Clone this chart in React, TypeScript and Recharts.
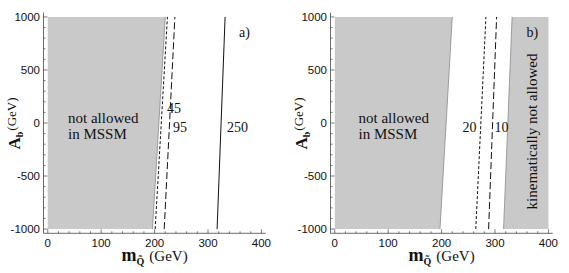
import React from 'react';
import { ComposedChart, Area, Line, XAxis, YAxis } from 'recharts';

// A_b values where each contour / boundary is sampled
const AB = [-1000, 1000];

// axis ticks (major ones get labels)
const X_TICKS = [0, 20, 40, 60, 80, 100, 120, 140, 160, 180, 200, 220, 240, 260, 280, 300, 320, 340, 360, 380, 400];
const Y_TICKS = [-1000, -900, -800, -700, -600, -500, -400, -300, -200, -100, 0, 100, 200, 300, 400, 500, 600, 700, 800, 900, 1000];
const X_DOMAIN = [-8, 408];
const Y_DOMAIN = [-1040, 1040];
const M_MAX = 400;

// panel a) m_Q at A_b = -1000 / +1000
const A_MSSM_EDGE = [196, 220];
const A_45 = [201, 224];
const A_95 = [218, 238];
const A_250 = [317, 332];

// panel b)
const B_MSSM_EDGE = [197, 220];
const B_20 = [264, 283];
const B_10 = [288, 303];
const B_KIN_EDGE = [316, 332];

const rowsA = AB.map((ab, i) => ({
  ab,
  mssm: [0, A_MSSM_EDGE[i]],
  edge: A_MSSM_EDGE[i],
  c45: A_45[i],
  c95: A_95[i],
  c250: A_250[i],
}));

const rowsB = AB.map((ab, i) => ({
  ab,
  mssm: [0, B_MSSM_EDGE[i]],
  edge: B_MSSM_EDGE[i],
  c20: B_20[i],
  c10: B_10[i],
  kin: [B_KIN_EDGE[i], M_MAX],
  kinEdge: B_KIN_EDGE[i],
}));

const W = 285;
const H = 273;
const FRAME = '#444';
const GRAY = '#c9c9c9';
const SANS = '"Liberation Sans", Arial, sans-serif';
const SERIF = '"Liberation Serif", "Times New Roman", serif';

const BottomTick = ({ x, y, payload }: any) => {
  const major = payload.value % 100 === 0;
  return (
    <g>
      <line x1={x} x2={x} y1={y} y2={y - (major ? 4 : 2)} stroke={FRAME} strokeWidth={0.7} />
      {major && (
        <text x={x} y={y + 14} textAnchor="middle" fontSize={11.5} fontFamily={SANS} fill="#111">
          {payload.value}
        </text>
      )}
    </g>
  );
};

const TopTick = ({ x, y, payload }: any) => {
  const major = payload.value % 100 === 0;
  return <line x1={x} x2={x} y1={y} y2={y + (major ? 4 : 2)} stroke={FRAME} strokeWidth={0.7} />;
};

const LeftTick = ({ x, y, payload }: any) => {
  const major = payload.value % 500 === 0;
  return (
    <g>
      <line x1={x} x2={x + (major ? 4 : 2)} y1={y} y2={y} stroke={FRAME} strokeWidth={0.7} />
      {major && (
        <text x={x - 3.5} y={y + 4} textAnchor="end" fontSize={11.5} fontFamily={SANS} fill="#111">
          {payload.value}
        </text>
      )}
    </g>
  );
};

const RightTick = ({ x, y, payload }: any) => {
  const major = payload.value % 500 === 0;
  return <line x1={x} x2={x - (major ? 4 : 2)} y1={y} y2={y} stroke={FRAME} strokeWidth={0.7} />;
};

const frameAxes = () => [
  <XAxis
    key="xb"
    xAxisId="b"
    orientation="bottom"
    type="number"
    domain={X_DOMAIN}
    ticks={X_TICKS}
    allowDataOverflow
    interval={0}
    height={39.7}
    tickSize={0}
    tickMargin={0}
    tickLine={false}
    tick={BottomTick}
    axisLine={{ stroke: FRAME, strokeWidth: 0.8 }}
  />,
  <XAxis
    key="xt"
    xAxisId="t"
    orientation="top"
    type="number"
    domain={X_DOMAIN}
    ticks={X_TICKS}
    allowDataOverflow
    interval={0}
    height={0}
    tickSize={0}
    tickMargin={0}
    tickLine={false}
    tick={TopTick}
    axisLine={{ stroke: FRAME, strokeWidth: 0.8 }}
  />,
  <YAxis
    key="yl"
    yAxisId="l"
    orientation="left"
    type="number"
    dataKey="ab"
    domain={Y_DOMAIN}
    ticks={Y_TICKS}
    allowDataOverflow
    reversed
    interval={0}
    width={43.5}
    tickSize={0}
    tickMargin={0}
    tickLine={false}
    tick={LeftTick}
    axisLine={{ stroke: FRAME, strokeWidth: 0.8 }}
  />,
  <YAxis
    key="yr"
    yAxisId="r"
    orientation="right"
    type="number"
    domain={Y_DOMAIN}
    ticks={Y_TICKS}
    allowDataOverflow
    reversed
    interval={0}
    width={0}
    tickSize={0}
    tickMargin={0}
    tickLine={false}
    tick={RightTick}
    axisLine={{ stroke: FRAME, strokeWidth: 0.8 }}
  />,
];

const MARGIN = { top: 12.7, right: 19.3, bottom: 0, left: 0 };

const AxisTitles = () => (
  <>
    <text x={154.6} y={261} textAnchor="middle" fontFamily={SERIF} fill="#111">
      <tspan fontWeight="bold" fontSize={18}>m</tspan>
      <tspan fontWeight="bold" fontSize={10} dy={4}>Q̃</tspan>
      <tspan fontSize={15} dy={-4} dx={5}>(GeV)</tspan>
    </text>
    <text transform="translate(20,123.5) rotate(-90)" textAnchor="middle" fontFamily={SERIF} fill="#111">
      <tspan fontWeight="bold" fontSize={17}>A</tspan>
      <tspan fontWeight="bold" fontSize={10} dy={3}>b</tspan>
      <tspan fontSize={13} dy={-7} dx={1}>(GeV)</tspan>
    </text>
  </>
);

const txt = { fontFamily: SERIF, fill: '#111' };

const PanelA = () => (
  <div style={{ position: 'absolute', left: 0, top: 0, width: W, height: H }}>
    <ComposedChart width={W} height={H} data={rowsA} layout="vertical" margin={MARGIN}>
      {frameAxes()}
      <Area xAxisId="b" yAxisId="l" dataKey="mssm" fill={GRAY} fillOpacity={1} stroke="none" isAnimationActive={false} />
      <Line xAxisId="b" yAxisId="l" dataKey="edge" stroke="#8a8a8a" strokeWidth={0.8} dot={false} isAnimationActive={false} />
      <Line xAxisId="b" yAxisId="l" dataKey="c45" stroke="#111" strokeWidth={1} strokeDasharray="3 2" dot={false} isAnimationActive={false} />
      <Line xAxisId="b" yAxisId="l" dataKey="c95" stroke="#111" strokeWidth={1} strokeDasharray="7 3" dot={false} isAnimationActive={false} />
      <Line xAxisId="b" yAxisId="l" dataKey="c250" stroke="#111" strokeWidth={1} dot={false} isAnimationActive={false} />
    </ComposedChart>
    <svg width={W} height={H} style={{ position: 'absolute', left: 0, top: 0, pointerEvents: 'none' }}>
      <AxisTitles />
      <text x={68} y={123} fontSize={15} {...txt}>not allowed</text>
      <text x={68} y={138.5} fontSize={15} {...txt}>in MSSM</text>
      <text x={167} y={113} fontSize={14} {...txt}>45</text>
      <text x={173} y={132} fontSize={14} {...txt}>95</text>
      <text x={227} y={132} fontSize={14} {...txt}>250</text>
      <text x={239} y={37} fontSize={14} {...txt}>a)</text>
    </svg>
  </div>
);

const PanelB = () => (
  <div style={{ position: 'absolute', left: 286.5, top: 0, width: W, height: H }}>
    <ComposedChart width={W} height={H} data={rowsB} layout="vertical" margin={MARGIN}>
      {frameAxes()}
      <Area xAxisId="b" yAxisId="l" dataKey="mssm" fill={GRAY} fillOpacity={1} stroke="none" isAnimationActive={false} />
      <Area xAxisId="b" yAxisId="l" dataKey="kin" fill={GRAY} fillOpacity={1} stroke="none" isAnimationActive={false} />
      <Line xAxisId="b" yAxisId="l" dataKey="edge" stroke="#8a8a8a" strokeWidth={0.8} dot={false} isAnimationActive={false} />
      <Line xAxisId="b" yAxisId="l" dataKey="kinEdge" stroke="#8a8a8a" strokeWidth={0.8} dot={false} isAnimationActive={false} />
      <Line xAxisId="b" yAxisId="l" dataKey="c20" stroke="#111" strokeWidth={1} strokeDasharray="3 2" dot={false} isAnimationActive={false} />
      <Line xAxisId="b" yAxisId="l" dataKey="c10" stroke="#111" strokeWidth={1} strokeDasharray="7 3" dot={false} isAnimationActive={false} />
    </ComposedChart>
    <svg width={W} height={H} style={{ position: 'absolute', left: 0, top: 0, pointerEvents: 'none' }}>
      <AxisTitles />
      <text x={71.5} y={123} fontSize={15} {...txt}>not allowed</text>
      <text x={71.5} y={138.5} fontSize={15} {...txt}>in MSSM</text>
      <text x={175.5} y={132} fontSize={14} {...txt}>20</text>
      <text x={207.5} y={132} fontSize={14} {...txt}>10</text>
      <text x={239.5} y={37} fontSize={14} {...txt}>b)</text>
      <text transform="translate(250,131.5) rotate(-90)" textAnchor="middle" fontSize={15} {...txt}>
        kinematically not allowed
      </text>
    </svg>
  </div>
);

export default function App() {
  return (
    <div style={{ position: 'absolute', left: 0, top: 0, width: 569, height: 273, background: '#fff' }}>
      <PanelA />
      <PanelB />
    </div>
  );
}
